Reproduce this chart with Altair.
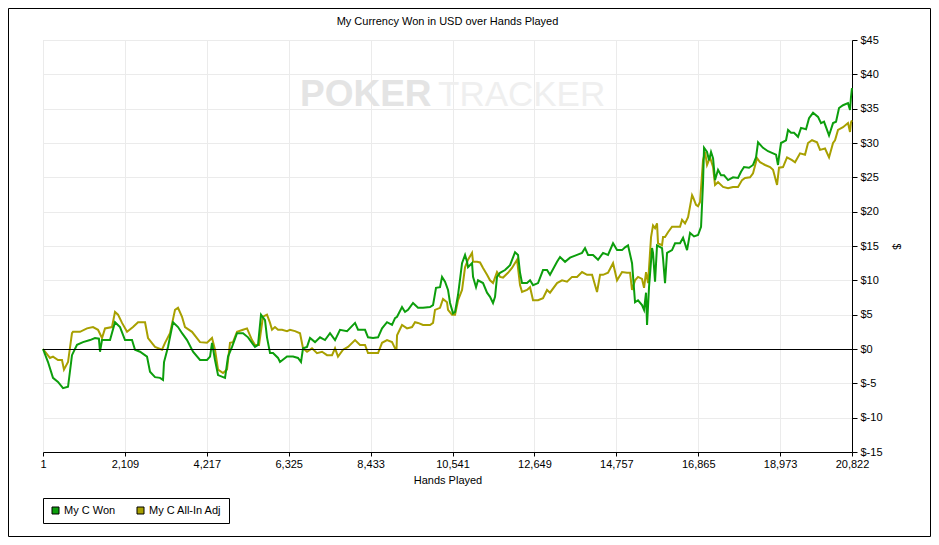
import altair as alt
import pandas as pd

# ---- data ----
won_hands = [1, 130, 258, 387, 516, 645, 747, 876, 1031, 1211, 1339, 1440, 1468, 1520, 1726, 1854, 1983, 2112, 2292, 2369,
             2498, 2678, 2755, 2884, 3013, 3090, 3116, 3218, 3347, 3476, 3579, 3708, 3862, 4042, 4222, 4300, 4351, 4428, 4506, 4686,
             4763, 4866, 4994, 5149, 5278, 5380, 5457, 5535, 5612, 5715, 5766, 5844, 5921, 6050, 6101, 6281, 6436, 6564, 6641, 6693,
             6796, 6873, 7002, 7131, 7259, 7388, 7517, 7645, 7826, 8032, 8109, 8289, 8366, 8495, 8624, 8727, 8855, 8984, 9061, 9113,
             9241, 9319, 9396, 9524, 9653, 9782, 9962, 10039, 10116, 10219, 10271, 10348, 10425, 10477, 10554, 10606, 10683, 10786, 10863, 10914,
             10940, 11043, 11069, 11146, 11197, 11326, 11429, 11506, 11583, 11635, 11686, 11764, 11892, 12021, 12150, 12227, 12278, 12330, 12458, 12536,
             12613, 12742, 12870, 12973, 13050, 13231, 13308, 13437, 13565, 13746, 13874, 13951, 14029, 14157, 14286, 14415, 14543, 14672, 14775, 14904,
             14981, 15058, 15161, 15238, 15315, 15418, 15470, 15521, 15547, 15598, 15676, 15701, 15753, 15804, 15933, 15959, 16010, 16062, 16190, 16268,
             16396, 16474, 16577, 16654, 16757, 16860, 16937, 16988, 17014, 17091, 17143, 17194, 17246, 17297, 17374, 17451, 17529, 17632, 17760, 17889,
             17966, 18043, 18172, 18275, 18352, 18404, 18532, 18661, 18790, 18867, 18918, 18944, 18995, 19124, 19176, 19253, 19330, 19433, 19510, 19639,
             19716, 19819, 19948, 20025, 20102, 20231, 20334, 20411, 20488, 20591, 20719, 20771, 20796, 20822]
won_vals = [0, -1.9, -4.2, -4.8, -5.7, -5.5, -0.9, 0.6, 1.0, 1.3, 1.6, 1.5, -0.4, 1.3, 1.3, 3.9, 3.2, 1.3, 1.3, -0.1,
            -0.4, -1.1, -3.3, -4.1, -4.2, -4.5, -1.9, 0.3, 3.9, 3.2, 2.3, 1.3, -0.4, -1.6, -1.6, -1.1, 0.9, -1.6, -3.8, -4.2,
            -1.1, 0.3, 2.3, 2.3, 1.7, 0.9, 0.3, 0.6, 5.0, 4.2, 1.7, -0.6, -0.6, -1.3, -1.9, -1.1, -1.1, -1.3, -1.9, 0.1,
            0.3, 1.6, 1.0, 1.7, 1.3, 2.3, 1.3, 2.8, 2.6, 3.8, 2.8, 2.8, 1.7, 1.6, 1.7, 3.0, 3.9, 3.5, 4.5, 4.7,
            6.1, 5.4, 5.7, 6.7, 6.0, 6.0, 6.1, 6.4, 8.9, 9.0, 10.5, 9.8, 8.6, 6.7, 5.2, 5.4, 7.9, 12.5, 13.7, 12.7,
            11.9, 12.5, 10.5, 9.0, 10.0, 9.6, 8.2, 7.6, 6.7, 7.6, 10.5, 11.1, 11.5, 12.2, 14.1, 13.7, 11.1, 9.6, 9.6, 10.0,
            9.3, 9.6, 11.5, 11.5, 10.8, 12.7, 13.4, 12.7, 13.3, 13.7, 14.0, 14.7, 13.7, 13.7, 13.0, 14.0, 13.7, 15.4, 14.4, 14.4,
            14.8, 15.1, 12.5, 6.8, 7.1, 6.4, 5.7, 8.2, 3.5, 9.0, 14.7, 14.0, 9.8, 15.1, 14.7, 13.2, 9.6, 14.0, 14.4, 15.4,
            15.4, 16.2, 14.4, 16.9, 16.4, 16.6, 17.8, 24.2, 29.3, 28.7, 27.5, 28.7, 27.8, 24.6, 26.1, 25.3, 25.3, 24.6, 25.0, 24.9,
            25.8, 26.5, 26.4, 26.8, 27.9, 30.1, 29.3, 28.8, 28.5, 28.3, 26.8, 28.0, 30.0, 30.4, 31.9, 31.5, 31.5, 30.9, 32.2, 32.0,
            33.6, 34.4, 33.8, 32.9, 33.1, 31.1, 32.9, 33.1, 35.1, 35.5, 35.8, 34.8, 36.7, 38.0]

adj_hands = [1, 180, 258, 387, 490, 541, 645, 747, 773, 953, 1134, 1288, 1417, 1520, 1597, 1777, 1854, 1932, 2035, 2164,
             2318, 2447, 2627, 2704, 2884, 3064, 3141, 3270, 3399, 3476, 3579, 3656, 3836, 4042, 4222, 4351, 4428, 4506, 4634, 4737,
             4814, 4891, 4994, 5149, 5252, 5380, 5457, 5560, 5663, 5766, 5844, 5895, 5972, 6050, 6153, 6281, 6358, 6487, 6616, 6693,
             6796, 6924, 7053, 7182, 7311, 7440, 7517, 7594, 7723, 7851, 8032, 8160, 8289, 8366, 8495, 8624, 8727, 8855, 8984, 9061,
             9100, 9113, 9241, 9370, 9499, 9576, 9653, 9782, 9962, 10039, 10090, 10219, 10296, 10399, 10425, 10528, 10606, 10683, 10786, 10863,
             10940, 11043, 11069, 11172, 11249, 11326, 11429, 11506, 11583, 11686, 11764, 11841, 11969, 12072, 12201, 12278, 12330, 12458, 12536, 12613,
             12742, 12870, 12973, 13050, 13231, 13359, 13488, 13617, 13746, 13874, 14003, 14132, 14260, 14338, 14415, 14543, 14672, 14775, 14904, 15032,
             15110, 15161, 15238, 15315, 15418, 15470, 15521, 15573, 15650, 15701, 15753, 15804, 15830, 15933, 15959, 16010, 16087, 16190, 16319, 16396,
             16448, 16525, 16603, 16706, 16731, 16808, 16860, 16911, 16988, 17040, 17091, 17169, 17246, 17297, 17374, 17503, 17632, 17760, 17889, 17992,
             18069, 18198, 18275, 18378, 18455, 18584, 18713, 18790, 18893, 18944, 19047, 19150, 19279, 19356, 19485, 19613, 19690, 19793, 19922, 19999,
             20128, 20231, 20334, 20385, 20462, 20591, 20719, 20771, 20796, 20822]
adj_vals = [0, -1.3, -1.1, -1.6, -1.6, -3.0, -1.9, 2.3, 2.5, 2.5, 3.0, 3.2, 2.8, 1.6, 3.0, 3.2, 5.4, 5.0, 3.8, 2.5,
            3.2, 3.9, 3.9, 1.6, 0.3, -0.1, 0.9, 2.3, 5.7, 6.0, 4.7, 3.2, 2.5, 1.0, 0.9, 1.6, -0.1, -3.0, -3.5, -3.0,
            0.9, 1.0, 2.5, 2.8, 3.0, 1.3, 0.6, 0.6, 4.7, 5.0, 3.8, 2.8, 3.2, 2.8, 2.8, 2.6, 2.8, 2.6, 2.3, 0.1,
            -0.4, 0.1, -0.6, -0.4, -0.9, -0.9, 0.1, -1.1, -0.1, 0.3, 1.3, 0.6, 0.6, -0.6, -0.6, -0.6, 0.9, 1.3, 1.0, 0.1,
            0.1, 2.0, 3.5, 3.0, 3.2, 3.9, 3.8, 3.5, 3.5, 3.8, 5.7, 6.0, 7.3, 6.8, 5.7, 5.0, 5.0, 7.1, 8.6, 11.9,
            13.0, 14.0, 12.7, 12.7, 12.6, 11.8, 10.8, 10.0, 9.6, 11.2, 10.5, 10.4, 11.1, 11.8, 13.0, 9.3, 8.3, 8.6, 9.0, 7.1,
            7.1, 7.4, 8.6, 8.2, 9.6, 10.0, 9.8, 10.5, 10.5, 11.2, 10.8, 10.8, 8.3, 10.8, 10.8, 11.1, 12.5, 10.0, 11.2, 11.1,
            11.1, 8.6, 10.0, 10.5, 10.2, 8.9, 11.2, 9.6, 16.3, 18.0, 17.6, 18.3, 15.4, 15.1, 16.3, 16.3, 17.0, 17.8, 17.8, 17.8,
            18.8, 18.3, 19.2, 22.4, 22.1, 21.0, 20.8, 21.4, 27.5, 28.7, 26.8, 27.9, 26.5, 23.9, 24.3, 23.6, 23.4, 23.6, 23.6, 24.6,
            24.9, 25.0, 25.6, 27.8, 27.2, 26.8, 26.5, 26.1, 23.9, 26.4, 26.5, 27.9, 27.5, 27.2, 28.5, 28.3, 30.0, 30.4, 30.1, 29.0,
            29.2, 27.9, 30.0, 30.4, 31.9, 32.3, 32.9, 31.6, 33.0, 33.3]

series_names = ["My C Won", "My C All-In Adj"]
series_colors = ["#0c9e0c", "#a8a000"]
x_ticks = [1, 2109, 4217, 6325, 8433, 10541, 12649, 14757, 16865, 18973, 20822]
y_ticks = [-15, -10, -5, 0, 5, 10, 15, 20, 25, 30, 35, 40, 45]
title_text = "My Currency Won in USD over Hands Played"

won_df = pd.DataFrame({"hand": won_hands, "usd": won_vals, "series": series_names[0]})
adj_df = pd.DataFrame({"hand": adj_hands, "usd": adj_vals, "series": series_names[1]})
both_df = pd.concat([won_df, adj_df], ignore_index=True)

FONT = "Liberation Sans"
W, H = 809, 412

x_scale = alt.Scale(domain=[1, 20822], nice=False, zero=False)
y_scale = alt.Scale(domain=[-15, 45], nice=False, zero=False)
x_axis = alt.Axis(values=x_ticks, format=",.0f", title="Hands Played",
                  grid=True, gridColor="#ebebeb", domainColor="black",
                  tickColor="black", tickSize=4, labelPadding=2,
                  labelFont=FONT, labelFontSize=11, labelColor="black",
                  titleFont=FONT, titleFontSize=11, titleFontWeight="normal",
                  titleColor="black", titlePadding=5, labelOverlap=False,
                  labelFlush=False)
y_axis = alt.Axis(orient="right", values=y_ticks, labelExpr="'$' + datum.value",
                  title="$", grid=True, gridColor="#ebebeb", domainColor="black",
                  tickColor="black", tickSize=5, labelPadding=3,
                  labelFont=FONT, labelFontSize=11, labelColor="black",
                  titleFont=FONT, titleFontSize=11, titleFontWeight="normal",
                  titleColor="black", titlePadding=8, labelOverlap=False)

x_enc = alt.X("hand:Q", scale=x_scale, axis=x_axis)
y_enc = alt.Y("usd:Q", scale=y_scale, axis=y_axis)

color_scale = alt.Scale(domain=series_names, range=series_colors)
legend = alt.Legend(title=None, orient="none", legendX=0, legendY=458, direction="horizontal",
                    symbolType="square", symbolSize=49, symbolStrokeWidth=1, symbolStrokeColor="black",
                    symbolOpacity=1,
                    labelFont=FONT, labelFontSize=11, labelColor="black", labelOffset=3,
                    padding=7, strokeColor="black", fillColor="white", columnPadding=19,
                    cornerRadius=0)

title = alt.Chart(pd.DataFrame({"t": [title_text]})).mark_text(
    font=FONT, fontSize=11, color="black", align="center", baseline="middle").encode(
    text="t:N", x=alt.value(W / 2), y=alt.value(-18))

wm1 = alt.Chart(pd.DataFrame({"t": ["POKER"]})).mark_text(
    font=FONT, fontSize=37, fontWeight="bold",
    color="#e4e4e4", align="left", baseline="alphabetic").encode(
    text="t:N", x=alt.value(257), y=alt.value(66))
wm2 = alt.Chart(pd.DataFrame({"t": ["TRACKER"]})).mark_text(
    font=FONT, fontSize=35,
    color="#efefef", align="left", baseline="alphabetic").encode(
    text="t:N", x=alt.value(395), y=alt.value(66))

zero = alt.Chart(pd.DataFrame({"z": [0]})).mark_rule(color="black", strokeWidth=1, yOffset=0.5).encode(
    y=alt.Y("z:Q", scale=y_scale, axis=y_axis))

adj_line = alt.Chart(adj_df).mark_line(strokeWidth=2, color=series_colors[1]).encode(x=x_enc, y=y_enc)
won_line = alt.Chart(won_df).mark_line(strokeWidth=2, color=series_colors[0]).encode(x=x_enc, y=y_enc)

# invisible squares that only supply the filled legend swatches
keys = alt.Chart(both_df).mark_square(size=0, filled=True, opacity=1, stroke="black", strokeWidth=1).encode(
    x=x_enc, y=y_enc, fill=alt.Fill("series:N", scale=color_scale, legend=legend))

frame = alt.Chart(pd.DataFrame({"a": [0]})).mark_rect(fill="transparent", stroke="black", strokeWidth=1).encode(
    x=alt.value(-34.5), x2=alt.value(W + 78.5), y=alt.value(-31.5), y2=alt.value(H + 84.5))

chart = alt.layer(wm1, wm2, adj_line, won_line, zero, keys, title, frame).properties(
    width=W, height=H,
    padding={"left": 35, "top": 32, "right": 79, "bottom": 85},
    autosize=alt.AutoSizeParams(type="none"),
).configure_view(stroke="black", strokeWidth=1).configure(background="white")

chart.save("out.html", embed_options={"renderer": "svg", "actions": False})
